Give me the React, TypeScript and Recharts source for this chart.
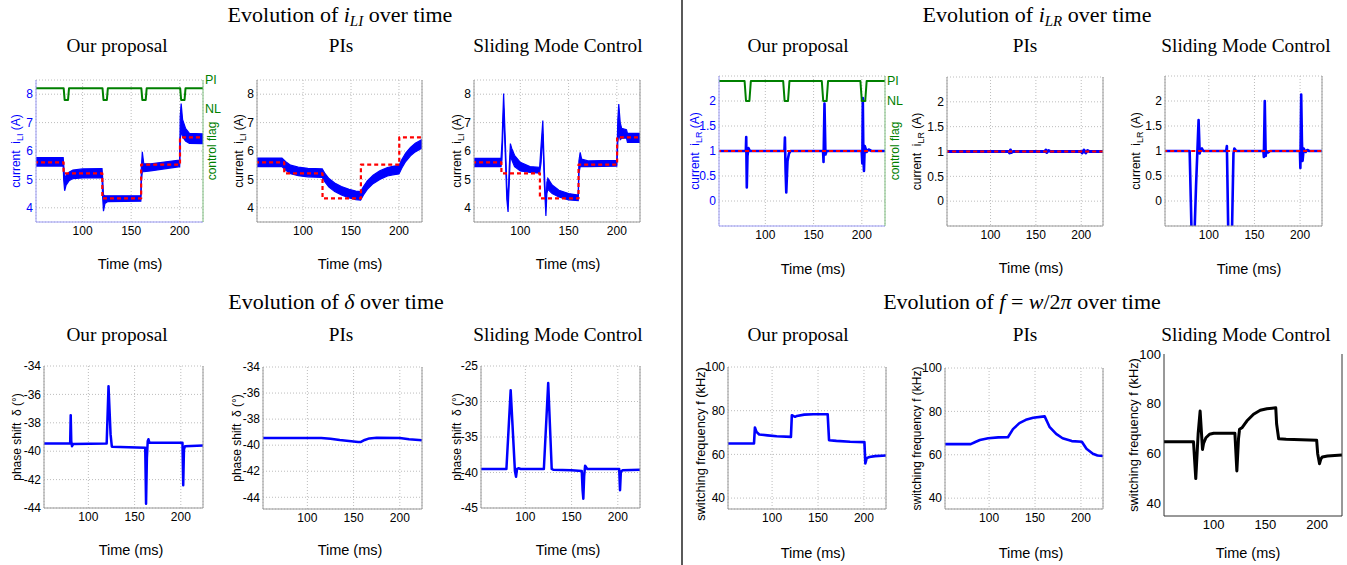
import React from "react";
import { ComposedChart, Line, Area, XAxis, YAxis, CartesianGrid } from "recharts";

const SANS = "'Liberation Sans', Arial, Helvetica, sans-serif";
const SERIF = "'Liberation Serif', 'Times New Roman', Times, serif";
const BLUE = "#0000ff";
const RED = "#ff0000";
const GREEN = "#008000";

type Pt = [number, number];
type Band = [number, number, number];

// ---------- axes ----------
const X_DOMAIN: [number, number] = [52, 224];
const X_TICKS = [100, 150, 200];
const TICKS_ILI = [4, 5, 6, 7, 8];
const TICKS_ILR = [0, 0.5, 1, 1.5, 2];
const TICKS_DELTA_A = [-44, -42, -40, -38, -36, -34];
const TICKS_DELTA_B = [-45, -40, -35, -30, -25];
const TICKS_FREQ = [40, 60, 80, 100];
const FLAG_TICKS = [0, 1];
const FLAG_NAMES = ["NL", "PI"];

// ---------- i_LI (time, low, high of ripple band) ----------
const iLI_ours: Band[] = [
  [50, 5.47, 5.77], [80, 5.47, 5.77], [80.5, 5.0, 5.55], [81.5, 4.6, 5.0], [83, 4.8, 5.15], [86, 4.95, 5.25],
  [90, 5.03, 5.33], [100, 5.05, 5.37], [120, 5.06, 5.38], [120.5, 4.45, 5.15], [121.5, 3.88, 4.45],
  [123, 4.15, 4.42], [126, 4.22, 4.42], [160, 4.23, 4.42], [160.5, 4.9, 5.4], [161.5, 5.27, 5.97],
  [163, 5.27, 5.55], [170, 5.3, 5.55], [200, 5.45, 5.68], [200.5, 6.4, 7.2], [201.5, 6.7, 7.67],
  [203, 6.5, 7.1], [206, 6.35, 6.8], [210, 6.27, 6.62], [224, 6.26, 6.6],
];
const iLI_pi: Band[] = [
  [50, 5.45, 5.75], [78, 5.45, 5.75], [82, 5.32, 5.62], [87, 5.2, 5.5], [95, 5.13, 5.43], [105, 5.09, 5.39],
  [120, 5.07, 5.37], [123, 4.9, 5.2], [127, 4.73, 5.03], [133, 4.57, 4.87], [140, 4.45, 4.75],
  [148, 4.35, 4.65], [155, 4.29, 4.59], [160, 4.27, 4.57], [163, 4.45, 4.75], [167, 4.65, 4.95],
  [173, 4.85, 5.15], [180, 5.0, 5.3], [188, 5.12, 5.42], [195, 5.17, 5.47], [200, 5.19, 5.49],
  [203, 5.4, 5.7], [207, 5.63, 5.93], [212, 5.83, 6.13], [217, 5.97, 6.27], [224, 6.1, 6.4],
];
const iLI_smc: Band[] = [
  [50, 5.45, 5.74], [80, 5.45, 5.74], [81, 5.7, 6.3], [82.7, 7.5, 8.02], [84.5, 5.8, 6.3], [86, 4.3, 4.8],
  [87.3, 3.85, 4.2], [88.5, 4.9, 5.4], [89.7, 5.85, 6.26], [91, 5.7, 6.1], [94, 5.45, 5.85], [100, 5.3, 5.6],
  [110, 5.25, 5.45], [120, 5.22, 5.42], [121.5, 5.6, 6.2], [123.3, 6.6, 7.07], [124.8, 4.9, 5.4],
  [126.5, 3.71, 4.0], [127.5, 4.5, 4.9], [128.5, 4.65, 5.04], [133, 4.5, 4.8], [140, 4.38, 4.62],
  [150, 4.28, 4.5], [160, 4.25, 4.45], [160.7, 5.2, 5.65], [162, 5.45, 5.95], [163.5, 5.45, 5.72],
  [170, 5.45, 5.65], [200, 5.47, 5.67], [201, 6.3, 7.1], [202, 6.6, 7.65], [203.5, 6.4, 7.0],
  [205, 6.45, 6.8], [210, 6.45, 6.75], [211, 6.3, 6.62], [224, 6.3, 6.62],
];
const iLI_ref: Pt[] = [
  [50, 5.6], [80.4, 5.6], [80.4, 5.21], [120.3, 5.21], [120.3, 4.33], [160.3, 4.33],
  [160.3, 5.52], [200.3, 5.52], [200.3, 6.48], [225, 6.48],
];
// control flag in right-axis units (NL tick = 0, PI tick = 1)
const flag_LI: Pt[] = [
  [50, 0.71], [80.5, 0.71], [81.5, 0.3], [85, 0.3], [86, 0.71], [120.5, 0.71], [121.5, 0.3], [125, 0.3],
  [126, 0.71], [160.5, 0.71], [161.5, 0.3], [165, 0.3], [166, 0.71], [200.5, 0.71], [201.5, 0.3],
  [205, 0.3], [206, 0.71], [225, 0.71],
];

// ---------- i_LR ----------
const iLR_ours: Pt[] = [
  [50, 1.0], [79.8, 1.0], [80.2, 1.28], [80.8, 0.27], [81.5, 0.9], [82.5, 1.06], [84, 1.0],
  [119.8, 1.0], [120.3, 1.27], [121, 0.6], [121.7, 0.17], [123, 0.8], [124.5, 0.95], [126, 1.0],
  [159.8, 1.0], [160.3, 0.78], [161.3, 1.95], [162.3, 0.93], [163.5, 1.0],
  [199.8, 1.0], [200.5, 0.75], [201, 2.06], [201.6, 0.9], [202.2, 0.6], [203, 1.1], [205, 0.98],
  [207, 1.03], [210, 1.0], [224, 1.0],
];
const iLR_pi: Pt[] = [
  [50, 1.0], [120, 1.0], [121, 0.97], [122, 1.03], [123, 0.98], [125, 1.0], [160, 1.0], [161, 1.03],
  [162, 0.98], [164, 1.02], [166, 1.0], [200, 1.0], [201, 0.97], [203, 1.03], [205, 0.97], [207, 1.02],
  [209, 1.0], [224, 1.0],
];
const iLR_smc: Pt[] = [
  [50, 1.0], [79, 1.0], [81, -0.55], [82.5, -1.2], [83.5, -1.2], [84.5, -0.55], [86, 0.3], [88.8, 1.62],
  [90, 0.95], [91, 1.02], [92.5, 1.05], [94, 1.0], [119, 1.0], [119.8, 1.1], [121.2, -0.5], [122.5, -1.2],
  [124.5, -1.2], [125.5, -0.5], [127, 0.95], [128, 1.05], [130, 1.0], [159.8, 1.0], [160.3, 0.88],
  [161.3, 2.0], [162.3, 0.9], [163, 1.0], [165, 0.97], [167, 1.0], [199.8, 1.0], [200.3, 0.66],
  [201.2, 2.13], [202, 1.2], [202.7, 0.8], [204, 1.05], [206, 0.98], [208, 1.02], [210, 1.0], [224, 1.0],
];
const iLR_ref: Pt[] = [[50, 1.0], [225, 1.0]];
const flag_LR: Pt[] = [
  [50, 1], [78.5, 1], [80, 0], [83.5, 0], [85, 1], [118.5, 1], [120, 0], [123.5, 0], [125, 1],
  [158.5, 1], [160, 0], [163.5, 0], [165, 1], [198.5, 1], [200, 0], [203.5, 0], [205, 1], [225, 1],
];

// ---------- phase shift delta ----------
const delta_ours: Pt[] = [
  [50, -39.45], [80.3, -39.45], [80.9, -37.46], [81.5, -39.3], [82.3, -39.65], [83.5, -39.5],
  [119.8, -39.45], [121.8, -35.42], [124, -38.8], [125.4, -39.68], [161.5, -39.75], [162.4, -43.7],
  [163.3, -40.5], [164.2, -39.3], [165, -39.16], [166, -39.4], [201.8, -39.4], [202.6, -42.4],
  [203.4, -39.9], [204.5, -39.65], [224, -39.6],
];
const delta_pi: Pt[] = [
  [50, -39.45], [115, -39.45], [125, -39.5], [135, -39.6], [145, -39.68], [155, -39.75], [158, -39.75],
  [162, -39.6], [167, -39.48], [175, -39.43], [200, -39.45], [210, -39.55], [224, -39.62],
];
const delta_smc: Pt[] = [
  [50, -39.5], [79.5, -39.5], [84.1, -28.4], [88.7, -39.8], [89.9, -40.6], [91, -39.5], [92.5, -39.4],
  [95, -39.5], [120, -39.5], [124.7, -27.4], [128.5, -39.5], [130, -39.6], [150, -39.7], [161, -39.8],
  [161.9, -42.5], [162.7, -43.7], [163.6, -40.5], [164.6, -39.05], [165.5, -39.2], [167, -39.5],
  [201.5, -39.5], [202.4, -42.5], [203.3, -39.9], [205, -39.7], [224, -39.6],
];

// ---------- switching frequency ----------
const freq_ours: Pt[] = [
  [50, 65], [80.3, 65], [81.3, 72.3], [83, 70.3], [86, 69.1], [95, 68.7], [105, 68.3], [120.5, 68],
  [121.5, 77.9], [123, 77.6], [125, 77.2], [127, 77.6], [135, 78.2], [145, 78.4], [160.5, 78.4],
  [162, 66.5], [170, 66.2], [185, 65.8], [200.5, 65.6], [201.5, 55.9], [203, 58.3], [206, 58.8],
  [212, 59.2], [224, 59.5],
];
const freq_pi: Pt[] = [
  [50, 64.9], [80, 64.9], [85, 65.9], [90, 66.8], [99, 67.6], [110, 68], [120.5, 68.1], [126, 71.8],
  [133, 74.6], [140, 76.1], [148, 77.1], [158, 77.6], [160.5, 77.7], [166, 72.7], [173, 69.6],
  [180, 67.6], [190, 66.3], [201, 66.0], [206, 62.8], [213, 60.5], [218, 59.7], [224, 59.4],
];
const freq_smc: Pt[] = [
  [50, 64.8], [80.5, 64.8], [82.7, 50], [85, 68], [86.9, 77.1], [89.2, 61.7], [90.2, 64.1], [92.5, 66.4],
  [96, 67.8], [100, 68.2], [120.5, 68.2], [122.4, 53.1], [124, 66], [125, 69.8], [127.3, 70.4],
  [132, 73.1], [138.5, 75.8], [145, 77.4], [151.4, 78], [160, 78.4], [160.8, 72], [162.8, 66],
  [170, 65.8], [199.5, 65.4], [200.5, 60], [202.3, 56], [203.5, 57.8], [205, 58.7], [210, 59.1],
  [224, 59.5],
];

const pts = (a: Pt[]) => a.map(([t, v]) => ({ t, v }));
const band = (a: Band[]) => a.map(([t, lo, hi]) => ({ t, r: [lo, hi] }));

type LineCfg = { data: Pt[]; color: string; width: number; dash?: string; axis?: string };
type Kind = "iLI" | "iLR" | "delta" | "freq";
interface PanelCfg {
  box: [number, number, number, number];
  yDomain: [number, number];
  yTicks: number[];
  bands?: Band[];
  lines: LineCfg[];
  flagDomain?: [number, number];
  grid: boolean;
  frame: { left: string; right: string; top: string; bottom: string };
  yTickColor: string;
  fontSize: number;
  kind: Kind;
  yLabelColor: string;
  yLabelX: number;
  yLabelY?: number;
  yLabelSize: number;
  xLabelX: number;
  xLabelY: number;
  flagLabelX?: number;
}

const GRAY = "#9a9a9a";
const grayFrame = { left: GRAY, right: GRAY, top: GRAY, bottom: GRAY };
const LB = "#9a9af5";
const LG = "#7fbf7f";

const refLI = (d: Pt[]): LineCfg[] => [{ data: d, color: RED, width: 2.2, dash: "4 3" }];

const PANELS: PanelCfg[] = [
  {
    box: [36, 80, 203, 222], yDomain: [3.5, 8.5], yTicks: TICKS_ILI, bands: iLI_ours,
    lines: [...refLI(iLI_ref), { data: flag_LI, color: GREEN, width: 2, axis: "flag" }],
    flagDomain: [-4, 1], grid: true, frame: { left: LB, right: LG, top: "none", bottom: LB },
    yTickColor: BLUE, fontSize: 12, kind: "iLI", yLabelColor: BLUE, yLabelX: 16, yLabelSize: 12,
    xLabelX: 130, xLabelY: 264, flagLabelX: 212,
  },
  {
    box: [257, 80, 422, 222], yDomain: [3.5, 8.5], yTicks: TICKS_ILI, bands: iLI_pi, lines: refLI(iLI_ref),
    grid: true, frame: grayFrame, yTickColor: "#000", fontSize: 12, kind: "iLI", yLabelColor: "#000",
    yLabelX: 239, yLabelSize: 12, xLabelX: 350, xLabelY: 264,
  },
  {
    box: [474, 80, 640, 222], yDomain: [3.5, 8.5], yTicks: TICKS_ILI, bands: iLI_smc, lines: refLI(iLI_ref),
    grid: true, frame: grayFrame, yTickColor: "#000", fontSize: 12, kind: "iLI", yLabelColor: "#000",
    yLabelX: 457, yLabelSize: 12, xLabelX: 568, xLabelY: 264,
  },
  {
    box: [719, 76, 885, 226], yDomain: [-0.5, 2.5], yTicks: TICKS_ILR,
    lines: [{ data: iLR_ours, color: BLUE, width: 2.6 }, ...refLI(iLR_ref), { data: flag_LR, color: GREEN, width: 2, axis: "flag" }],
    flagDomain: [-6.25, 1.25], grid: true, frame: { left: LB, right: LG, top: LB, bottom: LB },
    yTickColor: BLUE, fontSize: 12, kind: "iLR", yLabelColor: BLUE, yLabelX: 695, yLabelSize: 12,
    xLabelX: 813, xLabelY: 269, flagLabelX: 895,
  },
  {
    box: [947, 77, 1103, 226], yDomain: [-0.5, 2.5], yTicks: TICKS_ILR,
    lines: [{ data: iLR_pi, color: BLUE, width: 3 }, ...refLI(iLR_ref)],
    grid: true, frame: grayFrame, yTickColor: "#000", fontSize: 12, kind: "iLR", yLabelColor: "#000",
    yLabelX: 917, yLabelSize: 12, xLabelX: 1031, xLabelY: 268,
  },
  {
    box: [1165, 76, 1322, 226], yDomain: [-0.5, 2.5], yTicks: TICKS_ILR,
    lines: [{ data: iLR_smc, color: BLUE, width: 2.6 }, ...refLI(iLR_ref)],
    grid: true, frame: grayFrame, yTickColor: "#000", fontSize: 12, kind: "iLR", yLabelColor: "#000",
    yLabelX: 1136, yLabelSize: 12, xLabelX: 1249, xLabelY: 269,
  },
  {
    box: [44, 366, 203, 508], yDomain: [-44, -34], yTicks: TICKS_DELTA_A,
    lines: [{ data: delta_ours, color: BLUE, width: 2.5 }], grid: true, frame: grayFrame,
    yTickColor: "#000", fontSize: 12, kind: "delta", yLabelColor: "#000", yLabelX: 17, yLabelSize: 12,
    xLabelX: 131, xLabelY: 550,
  },
  {
    box: [263, 367, 422, 509], yDomain: [-44.9, -34], yTicks: TICKS_DELTA_A,
    lines: [{ data: delta_pi, color: BLUE, width: 2.5 }], grid: true, frame: grayFrame,
    yTickColor: "#000", fontSize: 12, kind: "delta", yLabelColor: "#000", yLabelX: 237, yLabelSize: 12,
    xLabelX: 350, xLabelY: 550,
  },
  {
    box: [481, 366, 640, 508], yDomain: [-45, -25], yTicks: TICKS_DELTA_B,
    lines: [{ data: delta_smc, color: BLUE, width: 2.5 }], grid: true, frame: grayFrame,
    yTickColor: "#000", fontSize: 12, kind: "delta", yLabelColor: "#000", yLabelX: 457, yLabelSize: 12,
    xLabelX: 568, xLabelY: 550,
  },
  {
    box: [728, 367, 886, 509], yDomain: [35, 100], yTicks: TICKS_FREQ,
    lines: [{ data: freq_ours, color: BLUE, width: 2.6 }], grid: true, frame: grayFrame,
    yTickColor: "#000", fontSize: 12, kind: "freq", yLabelColor: "#000", yLabelX: 700, yLabelY: 444,
    yLabelSize: 12.8, xLabelX: 813, xLabelY: 553,
  },
  {
    box: [945, 368, 1103, 509], yDomain: [35, 100], yTicks: TICKS_FREQ,
    lines: [{ data: freq_pi, color: BLUE, width: 2.6 }], grid: true, frame: grayFrame,
    yTickColor: "#000", fontSize: 12, kind: "freq", yLabelColor: "#000", yLabelX: 917, yLabelSize: 12,
    xLabelX: 1031, xLabelY: 553,
  },
  {
    box: [1164, 354, 1342, 516], yDomain: [35, 100], yTicks: TICKS_FREQ,
    lines: [{ data: freq_smc, color: "#000", width: 3 }], grid: false,
    frame: { left: "#333", right: "#333", top: "#333", bottom: "#333" },
    yTickColor: "#000", fontSize: 13, kind: "freq", yLabelColor: "#000", yLabelX: 1133, yLabelSize: 12.8,
    xLabelX: 1248, xLabelY: 553,
  },
];

const L = 60, R = 40, T = 12, B = 30;

function Panel({ c }: { c: PanelCfg }) {
  const [l, t, r, b] = c.box;
  const w = r - l;
  const h = b - t;
  const tickStyle = { fill: "#000", fontSize: c.fontSize, fontFamily: SANS };
  return (
    <div style={{ position: "absolute", left: l - L, top: t - T }}>
      <ComposedChart width={w + L + R} height={h + T + B} margin={{ top: T, right: 0, bottom: 0, left: 0 }}>
        {c.grid && <CartesianGrid stroke="#bcbcbc" strokeDasharray="1 2" />}
        <XAxis type="number" dataKey="t" domain={X_DOMAIN} ticks={X_TICKS} allowDataOverflow height={B}
          interval={0} tickLine={false} tickSize={0} tickMargin={4} axisLine={{ stroke: c.frame.bottom }} tick={tickStyle} />
        <XAxis xAxisId="top" orientation="top" type="number" domain={X_DOMAIN} allowDataOverflow height={0}
          tick={false} tickLine={false} axisLine={{ stroke: c.frame.top }} />
        <YAxis type="number" domain={c.yDomain} ticks={c.yTicks} allowDataOverflow width={L} interval={0}
          tickLine={false} tickSize={0} tickMargin={3} axisLine={{ stroke: c.frame.left }}
          tick={{ ...tickStyle, fill: c.yTickColor }} />
        {c.flagDomain ? (
          <YAxis yAxisId="flag" orientation="right" type="number" domain={c.flagDomain} ticks={FLAG_TICKS}
            tickFormatter={(v: number) => FLAG_NAMES[v]} allowDataOverflow width={R} interval={0}
            tickLine={false} tickSize={0} tickMargin={2} axisLine={{ stroke: c.frame.right }}
            tick={{ fill: GREEN, fontSize: 12.5, fontFamily: SANS }} />
        ) : (
          <YAxis yAxisId="r" orientation="right" type="number" domain={c.yDomain} allowDataOverflow width={R}
            tick={false} tickLine={false} axisLine={{ stroke: c.frame.right }} />
        )}
        {c.bands && (
          <Area data={band(c.bands)} dataKey="r" type="linear" stroke={BLUE} strokeWidth={1.2} fill={BLUE}
            fillOpacity={1} isAnimationActive={false} dot={false} activeDot={false} />
        )}
        {c.lines.map((ln, i) => (
          <Line key={i} data={pts(ln.data)} dataKey="v" type="linear" stroke={ln.color} strokeWidth={ln.width}
            strokeDasharray={ln.dash} yAxisId={ln.axis ?? 0} dot={false} activeDot={false}
            isAnimationActive={false} strokeLinejoin="round" />
        ))}
      </ComposedChart>
    </div>
  );
}

function YLabelText({ c }: { c: PanelCfg }) {
  const [, t, , b] = c.box;
  const y = c.yLabelY ?? (t + b) / 2;
  const s = c.yLabelSize;
  let body: React.ReactNode;
  if (c.kind === "iLI" || c.kind === "iLR") {
    body = (
      <>
        <tspan>{"current  i"}</tspan>
        <tspan fontSize={s * 0.75} dy={s * 0.3}>{c.kind === "iLI" ? "LI" : "LR"}</tspan>
        <tspan dy={-s * 0.3}>{" (A)"}</tspan>
      </>
    );
  } else if (c.kind === "delta") {
    body = <tspan>{"phase shift  \u03b4 (\u00b0)"}</tspan>;
  } else {
    body = <tspan>{"switching frequency f (kHz)"}</tspan>;
  }
  return (
    <text transform={`translate(${c.yLabelX},${y}) rotate(-90)`} textAnchor="middle" dominantBaseline="central"
      fontFamily={SANS} fontSize={s} fill={c.yLabelColor} style={{ whiteSpace: "pre" }}>
      {body}
    </text>
  );
}

function Overlay() {
  const title = { fontFamily: SERIF, fontSize: 22, textAnchor: "middle" as const, fill: "#000" };
  const sub = { fontFamily: SERIF, fontSize: 19.3, textAnchor: "middle" as const, fill: "#000" };
  const subs: [string, number][] = [
    ["Our proposal", 117], ["PIs", 341], ["Sliding Mode Control", 558],
    ["Our proposal", 798], ["PIs", 1025], ["Sliding Mode Control", 1246],
  ];
  return (
    <svg width={1347} height={565} style={{ position: "absolute", left: 0, top: 0, pointerEvents: "none" }}>
      <line x1={682} y1={0} x2={682} y2={565} stroke="#000" strokeWidth={1.3} />
      <text x={340} y={22} {...title} style={{ whiteSpace: "pre" }}>
        <tspan>{"Evolution of "}</tspan>
        <tspan fontStyle="italic">i</tspan>
        <tspan fontStyle="italic" fontSize={15} dy={4}>LI</tspan>
        <tspan dy={-4}>{" over time"}</tspan>
      </text>
      <text x={1037} y={22} {...title} style={{ whiteSpace: "pre" }}>
        <tspan>{"Evolution of "}</tspan>
        <tspan fontStyle="italic">i</tspan>
        <tspan fontStyle="italic" fontSize={15} dy={4}>LR</tspan>
        <tspan dy={-4}>{" over time"}</tspan>
      </text>
      <text x={336} y={309} {...title} style={{ whiteSpace: "pre" }}>
        <tspan>{"Evolution of "}</tspan>
        <tspan fontStyle="italic">{"\u03b4"}</tspan>
        <tspan>{" over time"}</tspan>
      </text>
      <text x={1022} y={309} {...title} style={{ whiteSpace: "pre" }}>
        <tspan>{"Evolution of "}</tspan>
        <tspan fontStyle="italic">f</tspan>
        <tspan>{" = "}</tspan>
        <tspan fontStyle="italic">w</tspan>
        <tspan>{"/2"}</tspan>
        <tspan fontStyle="italic">{"\u03c0"}</tspan>
        <tspan>{" over time"}</tspan>
      </text>
      {subs.map(([s, x], i) => (
        <text key={"a" + i} x={x} y={52} {...sub}>{s}</text>
      ))}
      {subs.map(([s, x], i) => (
        <text key={"b" + i} x={x} y={341} {...sub}>{s}</text>
      ))}
      {PANELS.map((c, i) => (
        <React.Fragment key={"p" + i}>
          <YLabelText c={c} />
          <text x={c.xLabelX} y={c.xLabelY} textAnchor="middle" dominantBaseline="central" fontFamily={SANS}
            fontSize={14.5} fill="#000">Time (ms)</text>
          {c.flagLabelX !== undefined && (
            <text transform={`translate(${c.flagLabelX},${(c.box[1] + c.box[3]) / 2}) rotate(-90)`}
              textAnchor="middle" dominantBaseline="central" fontFamily={SANS} fontSize={12} fill={GREEN}>
              control flag
            </text>
          )}
        </React.Fragment>
      ))}
    </svg>
  );
}

export default function App() {
  return (
    <div style={{ position: "absolute", left: 0, top: 0, width: 1347, height: 565, overflow: "hidden", background: "#fff" }}>
      {PANELS.map((c, i) => (
        <Panel key={i} c={c} />
      ))}
      <Overlay />
    </div>
  );
}
